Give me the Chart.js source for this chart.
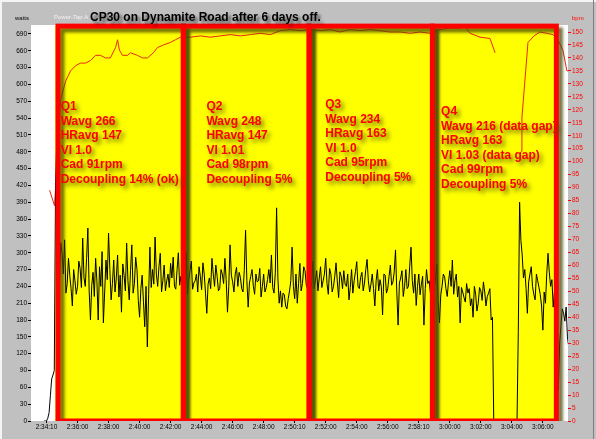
<!DOCTYPE html>
<html>
<head>
<meta charset="utf-8">
<script src="https://cdn.jsdelivr.net/npm/chart.js@4"></script>
<style>
  body { margin: 0; background: #c0c0c0; }
  #wrap { width: 596px; height: 439px; }
</style>
</head>
<body>
<div id="wrap"><canvas id="myChart" width="596" height="439"></canvas></div>
<script>
// time axis is in minutes of the day (2:36:00 = 156)
const sampleStart = 153.0;
const sampleStep = 1 / 12; // one power sample every 5 s

const powerWatts = [
  null, null, null, null, null, null, null, null, null, null, 0, 0, 0, 5, 15, 45, 75, 82, 90, 420,
  505, 210, 240, 318, 300, 262, 323, 228, 245, 290, 260, 236, 205, 270, 250, 226, 240, 285, 272, 238,
  326, 255, 240, 290, 344, 232, 180, 242, 265, 222, 290, 248, 180, 275, 240, 302, 175, 230, 287, 252,
  335, 270, 216, 245, 287, 230, 255, 296, 221, 260, 194, 280, 260, 232, 317, 250, 216, 268, 314, 228,
  245, 292, 270, 215, 185, 236, 260, 212, 168, 240, 132, 226, 310, 238, 270, 244, 328, 262, 240, 275,
  299, 230, 250, 278, 232, 250, 262, 238, 281, 255, 292, 240, 235, 270, 300, 242, 258, 230, 275, 252,
  300, 226, 250, 268, 285, 235, 246, 250, 262, 230, 275, 258, 234, 282, 262, 228, 192, 244, 255, 236,
  290, 262, 240, 278, 258, 232, 236, 270, 262, 245, 290, 252, 194, 240, 314, 260, 248, 230, 262, 274,
  240, 265, 256, 236, 230, 268, 340, 250, 203, 246, 258, 270, 240, 226, 262, 248, 250, 272, 221, 240,
  262, 230, 238, 252, 270, 246, 296, 238, 228, 264, 380, 255, 210, 232, 203, 228, 225, 205, 200, 218,
  232, 250, 310, 240, 218, 262, 210, 245, 281, 232, 245, 275, 268, 242, 236, 258, 262, 240, 285, 236,
  250, 268, 232, 255, 275, 238, 250, 262, 290, 245, 226, 272, 262, 230, 240, 258, 282, 248, 220, 266,
  258, 236, 268, 244, 240, 262, 216, 238, 270, 228, 250, 266, 284, 240, 236, 256, 265, 232, 246, 270,
  288, 250, 230, 244, 262, 236, 205, 250, 270, 232, 252, 240, 189, 262, 260, 228, 236, 258, 278, 242,
  248, 266, 305, 230, 171, 246, 255, 268, 222, 240, 270, 236, 240, 276, 310, 250, 228, 262, 206, 240,
  262, 225, 244, 258, 171, 236, 270, 245, 250, 228, 262, 248, 240, 255, 280, 212, 175, 225, 240, 262,
  257, 236, 222, 248, 268, 240, 287, 226, 250, 262, 221, 240, 175, 238, 230, 220, 212, 245, 228, 236,
  205, 218, 185, 240, 226, 196, 210, 238, 232, 215, 248, 230, 205, 222, 228, 236, 180, 185, 0, 0,
  0, 0, 0, 0, 0, 0, 0, 0, 0, 0, 0, 0, 0, 0, 0, 0, 0, 160, 390, 322,
  296, 255, 270, 236, 192, 248, 262, 275, 240, 226, 216, 262, 250, 238, 225, 205, 162, 230, 210, 262,
  299, 264, 240, 252, 203, 232, 240, 120, 55, 140, 170, 200, 192, 178, 203, 150, 132
];

const hrTimes = [
  154.20, 154.52, 154.65, 154.78, 154.91, 155.23, 155.55, 155.87, 156.19, 156.52,
  156.84, 157.16, 157.48, 157.80, 158.12, 158.45, 158.58, 158.70, 158.90, 159.22,
  159.41, 159.86, 160.19, 160.51, 160.89, 161.15, 161.54, 161.99, 162.31, 162.63,
  163.28, 163.92, 164.56, 165.21, 165.85, 166.50, 167.14, 167.78, 168.43, 169.07,
  169.72, 170.36, 171.00, 171.65, 172.29, 172.93, 173.58, 174.22, 174.87, 175.51,
  176.15, 176.80, 177.44, 178.09, 178.73, 179.37, 180.02, 180.66, 180.98, 181.31,
  181.95, 182.59, 182.92, 183.50, 184.59, 184.65, 185.04, 185.43, 185.81, 186.26,
  186.65, 186.97, 187.29, 187.55, 187.68
];
const hrBpm = [
  89, 83, 97, 112, 124, 131, 135, 137, 138, 138,
  139, 141, 141, 140, 140, 144, 147, 143, 141, 141,
  142, 141, 140, 140, 142, 144, 145, 146, 147, 148,
  148, 148.5, 148, 148.5, 149, 148.5, 149, 149.5, 149, 150.5,
  151, 150.5, 151, 150.5, 151, 150, 151, 150.5, 151, 150.5,
  150, 150, 149.5, 150, 149.5, 151, 151.5, 151.5, 152, 149.5,
  148, 147.5, 142, null, 104, 117, 146, 148.5, 150, 149.5,
  149, 147, 143, 135, 135
];

const timeTicks = [154, 156, 158, 160, 162, 164, 166, 168, 170, 172, 174, 176, 178, 180, 182, 184, 186];
const timeLabels = ["2:34:10", "2:36:00", "2:38:00", "2:40:00", "2:42:00", "2:44:00", "2:46:00", "2:48:00",
  "2:50:10", "2:52:00", "2:54:00", "2:56:00", "2:58:10", "3:00:00", "3:02:00", "3:04:00", "3:06:00"];
const wattTicks = [0, 30, 60, 90, 120, 150, 180, 210, 240, 270, 300, 330, 360, 390, 420, 450,
  480, 510, 540, 570, 600, 630, 660, 690];
const bpmTicks = [0, 5, 10, 15, 20, 25, 30, 35, 40, 45, 50, 55, 60, 65, 70, 75, 80, 85, 90, 95,
  100, 105, 110, 115, 120, 125, 130, 135, 140, 145, 150];

// quarter boundaries (minutes) and the notes written in each quarter
const quarterEdges = [154.74, 162.82, 170.93, 178.88, 186.87];
const boxTop = 704;
const noteX = [154.91, 164.31, 171.97, 179.44];
const noteY = [554, 554, 558, 545];
const quarterNotes = [
  ["Q1", "Wavg 266", "HRavg 147", "VI 1.0", "Cad 91rpm", "Decoupling 14% (ok)"],
  ["Q2", "Wavg 248", "HRavg 147", "VI 1.01", "Cad 98rpm", "Decoupling 5%"],
  ["Q3", "Wavg 234", "HRavg 163", "VI 1.0", "Cad 95rpm", "Decoupling 5%"],
  ["Q4", "Wavg 216 (data gap)", "HRavg 163", "VI 1.03 (data gap)", "Cad 99rpm", "Decoupling 5%"]
];

const powerPoints = powerWatts.map((w, i) => ({ x: sampleStart + i * sampleStep, y: w }));
const hrPoints = hrTimes.map((t, i) => ({ x: t, y: hrBpm[i] }));

const quarters = {
  id: "quarters",
  beforeDraw(chart) {
    const { ctx, chartArea: a } = chart;
    ctx.save();
    ctx.fillStyle = "#c0c0c0";
    ctx.fillRect(0, 0, chart.width, chart.height);
    ctx.fillStyle = "#ffffff";
    ctx.fillRect(a.left, a.top, a.right - a.left, a.bottom - a.top);
    // window frame
    ctx.fillStyle = "#f4f4f4";
    ctx.fillRect(0, 0, chart.width, 2);
    ctx.fillRect(0, 0, 2, chart.height);
    ctx.fillStyle = "#808080";
    ctx.fillRect(chart.width - 3, 0, 1, chart.height);
    ctx.restore();
  },
  beforeDatasetsDraw(chart) {
    const { ctx, chartArea: a, scales } = chart;
    const x0 = scales.x.getPixelForValue(quarterEdges[0]) - 3;
    const x1 = scales.x.getPixelForValue(quarterEdges[4]) + 2;
    const y0 = scales.y.getPixelForValue(boxTop);
    ctx.save();
    ctx.fillStyle = "#ffff00";
    ctx.fillRect(x0, y0, x1 - x0, a.bottom - y0);
    ctx.restore();
  },
  afterDatasetsDraw(chart) {
    const { ctx, chartArea: a, scales } = chart;
    const yt = scales.y.getPixelForValue(boxTop);
    const yb = scales.y.getPixelForValue(0);
    ctx.save();
    ctx.beginPath();
    ctx.rect(a.left, a.top - 2, a.right - a.left, a.bottom - a.top + 2);
    ctx.clip();
    ctx.strokeStyle = "#ff0000";
    ctx.lineWidth = 5;
    ctx.shadowColor = "rgba(70,70,0,0.75)";
    ctx.shadowBlur = 3;
    ctx.shadowOffsetX = 4;
    ctx.shadowOffsetY = 4;
    for (let i = 0; i < 4; i++) {
      const xl = scales.x.getPixelForValue(quarterEdges[i]);
      const xr = scales.x.getPixelForValue(quarterEdges[i + 1]);
      ctx.strokeRect(xl, yt, xr - xl, yb - yt);
    }
    ctx.restore();

    ctx.save();
    ctx.font = "bold 12px 'Liberation Sans', Arial, sans-serif";
    ctx.fillStyle = "#ff0000";
    ctx.textBaseline = "alphabetic";
    ctx.shadowColor = "rgba(80,80,0,0.8)";
    ctx.shadowBlur = 4;
    ctx.shadowOffsetX = 3;
    ctx.shadowOffsetY = 3;
    quarterNotes.forEach((lines, q) => {
      const x = scales.x.getPixelForValue(noteX[q]);
      const y = scales.y.getPixelForValue(noteY[q]);
      lines.forEach((txt, k) => ctx.fillText(txt, x, y + k * 14.5));
    });
    ctx.restore();
  },
  afterDraw(chart) {
    const { ctx } = chart;
    ctx.save();
    ctx.font = "6px 'Liberation Sans', Arial, sans-serif";
    ctx.fillStyle = "#f2f2f2";
    ctx.fillText("Power-Tap A", 54, 19);
    ctx.fillStyle = "#000000";
    ctx.fillText("watts", 15, 20);
    ctx.fillStyle = "#ff0000";
    ctx.fillText("bpm", 572, 20);
    ctx.font = "bold 12px 'Liberation Sans', Arial, sans-serif";
    ctx.fillStyle = "#000000";
    ctx.shadowColor = "rgba(0,0,0,0.55)";
    ctx.shadowBlur = 3;
    ctx.shadowOffsetX = 3;
    ctx.shadowOffsetY = 3;
    ctx.fillText("CP30 on Dynamite Road after 6 days off.", 90, 21);
    ctx.restore();
  }
};

const axisFont = { family: "'Liberation Sans', Arial, sans-serif", size: 6.5 };

new Chart(document.getElementById("myChart"), {
  type: "line",
  data: {
    datasets: [
      {
        label: "Power",
        data: powerPoints,
        yAxisID: "y",
        borderColor: "#000000",
        borderWidth: 1,
        pointRadius: 0,
        tension: 0,
        spanGaps: false,
      },
      {
        label: "Heart rate",
        data: hrPoints,
        yAxisID: "y1",
        borderColor: "rgb(232,40,20)",
        borderWidth: 1,
        pointRadius: 0,
        tension: 0,
        spanGaps: false,
      },
    ],
  },
  options: {
    responsive: false,
    animation: false,
    devicePixelRatio: 1,
    layout: { padding: { top: 25, left: 0, right: 0, bottom: 0 } },
    plugins: {
      legend: { display: false },
      tooltip: { enabled: false },
    },
    scales: {
      x: {
        type: "linear",
        min: 153.0,
        max: 187.62,
        afterBuildTicks: (s) => { s.ticks = timeTicks.map((v) => ({ value: v })); },
        afterFit: (s) => { s.height = 18; },
        ticks: {
          autoSkip: false,
          maxRotation: 0,
          padding: 0,
          color: "#000000",
          font: axisFont,
          callback: (v) => timeLabels[timeTicks.indexOf(v)] ?? "",
        },
        grid: { drawOnChartArea: false, tickLength: 2, color: "#000000" },
        border: { display: false },
      },
      y: {
        position: "left",
        min: 0,
        max: 706,
        afterBuildTicks: (s) => { s.ticks = wattTicks.map((v) => ({ value: v })); },
        afterFit: (s) => { s.width = 31; },
        ticks: { padding: 1, color: "#000000", font: axisFont },
        grid: { drawOnChartArea: false, tickLength: 3, color: "#000000" },
        border: { display: false },
      },
      y1: {
        position: "right",
        min: 0,
        max: 152.7,
        afterBuildTicks: (s) => { s.ticks = bpmTicks.map((v) => ({ value: v })); },
        afterFit: (s) => { s.width = 28; },
        ticks: { padding: 1, color: "#ff0000", font: axisFont },
        grid: { drawOnChartArea: false, tickLength: 3, color: "#ff0000" },
        border: { display: false },
      },
    },
  },
  plugins: [quarters],
});
</script>
</body>
</html>
